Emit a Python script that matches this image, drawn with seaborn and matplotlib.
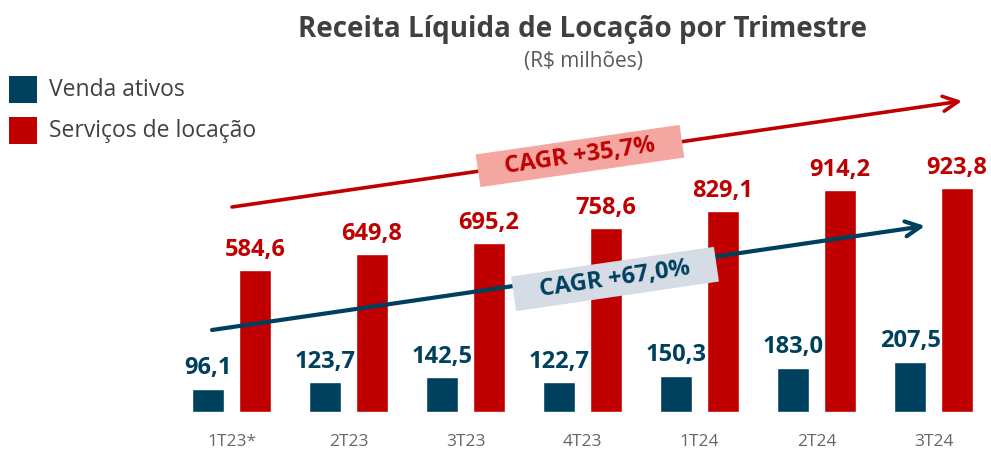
import matplotlib
matplotlib.use("Agg")
import matplotlib.pyplot as plt
from matplotlib.patches import Rectangle
import seaborn as sns
import pandas as pd
import numpy as np

# ---- data ----
quarters = ["1T23*", "2T23", "3T23", "4T23", "1T24", "2T24", "3T24"]
venda_ativos = [96.1, 123.7, 142.5, 122.7, 150.3, 183.0, 207.5]
servicos_locacao = [584.6, 649.8, 695.2, 758.6, 829.1, 914.2, 923.8]
series_names = ["Venda ativos", "Serviços de locação"]
cagr_servicos = "CAGR +35,7%"
cagr_venda = "CAGR +67,0%"
title = "Receita Líquida de Locação por Trimestre"
subtitle = "(R$ milhões)"

BLUE = "#00405F"
RED = "#C00000"
PINK = "#F4A6A1"
LIGHTBLUE = "#D6DCE5"
DARK = "#404040"

sns.set_theme(style="white")
plt.rcParams['font.family'] = ['Open Sans', 'DejaVu Sans']

W, H = 991, 450
fig = plt.figure(figsize=(W / 100, H / 100), dpi=100)

df = pd.DataFrame({
    "Trimestre": quarters * 2,
    "Valor": venda_ativos + servicos_locacao,
    "Série": [series_names[0]] * len(quarters) + [series_names[1]] * len(quarters),
})

# main axes: baseline at y=412 px, group spacing ~117 px
left_px, base_px, top_px = 150, 412, 40
ax = fig.add_axes([left_px / W, 1 - base_px / H, (W - left_px) / W, (base_px - top_px) / H])
sns.barplot(data=df, x="Trimestre", y="Valor", hue="Série", order=quarters,
            hue_order=series_names, palette=[BLUE, RED], width=0.8, gap=0.32,
            legend=False, ax=ax, saturation=1)
px_per_unit = 117.0
c0 = 231.5
ax.set_xlim(-(c0 - left_px) / px_per_unit, (W - c0) / px_per_unit)
ax.set_ylim(0, (base_px - top_px) / 0.2425)
for s in ax.spines.values():
    s.set_visible(False)
ax.set_yticks([])
ax.set_xlabel("")
ax.set_ylabel("")
ax.tick_params(axis='x', length=0, pad=16, labelsize=12.5, labelcolor="#666666")

fmt = lambda v: f"{v:.1f}".replace(".", ",")
for cont, col in zip(ax.containers, [BLUE, RED]):
    ax.bar_label(cont, labels=[fmt(b.get_height()) for b in cont], padding=6,
                 fontsize=17, fontweight="bold", color=col)

# overlay axes in pixel coordinates for decorations
ov = fig.add_axes([0, 0, 1, 1])
ov.set_xlim(0, W)
ov.set_ylim(H, 0)
ov.axis("off")

# titles
ov.text(583, 30, title, ha="center", va="center", fontsize=20, fontweight="bold", color=DARK)
ov.text(583, 62, subtitle, ha="center", va="center", fontsize=15, color="#595959")

# legend (manual)
for (y, col, name) in [(76, BLUE, series_names[0]), (117, RED, series_names[1])]:
    ov.add_patch(Rectangle((9, y), 28, 27, facecolor=col, edgecolor="none"))
    ov.text(49, y + 14, name, ha="left", va="center", fontsize=16.5, color=DARK)

# trend arrows
def trend(x0, y0, x1, y1, color, lw):
    ov.annotate("", xy=(x1, y1), xytext=(x0, y0),
                arrowprops=dict(arrowstyle="->,head_length=0.9,head_width=0.45",
                                color=color, lw=lw, shrinkA=0, shrinkB=0))
    return np.degrees(np.arctan2(y0 - y1, x1 - x0))

ang_r = trend(232, 207, 962, 101, RED, 2.6)
ang_b = trend(212, 330, 925, 226, BLUE, 3.0)

def cagr_box(cx, cy, w, h, ang, text, fc, tc):
    ov.add_patch(Rectangle((cx - w / 2, cy - h / 2), w, h, angle=-ang,
                           rotation_point="center", facecolor=fc, edgecolor="none", zorder=3))
    ov.text(cx, cy, text, ha="center", va="center", rotation=ang,
            rotation_mode="anchor", fontsize=17, fontweight="bold", color=tc, zorder=4)

cagr_box(580, 156, 206, 33, ang_r, cagr_servicos, PINK, RED)
cagr_box(615, 279, 205, 35, ang_b, cagr_venda, LIGHTBLUE, BLUE)

fig.savefig("out.png", dpi=100)
